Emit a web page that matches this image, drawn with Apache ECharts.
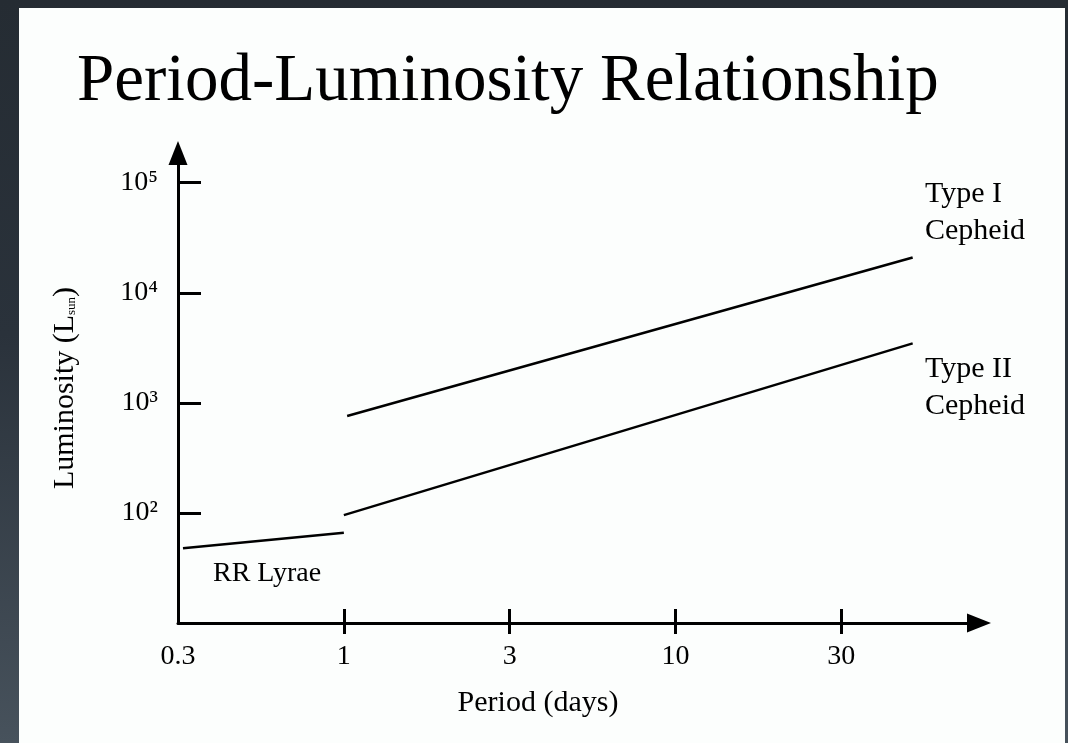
<!DOCTYPE html>
<html>
<head>
<meta charset="utf-8">
<script src="https://cdn.jsdelivr.net/npm/echarts@6/dist/echarts.min.js"></script>
<style>
  html, body {
    margin: 0;
    padding: 0;
    width: 1068px;
    height: 743px;
    overflow: hidden;
    background: linear-gradient(to bottom, #252c33 0%, #2a323b 45%, #47525c 100%);
  }
  .panel {
    position: absolute;
    left: 19px;
    top: 8px;
    width: 1046px;
    height: 735px;
    background: #fcfefd;
  }
  #chart {
    position: absolute;
    left: 0;
    top: 0;
    width: 1068px;
    height: 743px;
  }
</style>
</head>
<body>
<div class="panel"></div>
<div id="chart"></div>
<script>
// x: tick position (0 = 0.3 d, 1 = 1 d, 2 = 3 d, 3 = 10 d, 4 = 30 d)
// y: log10 of luminosity in solar units
const periodLabels = ['0.3', '1', '3', '10', '30']
const periodTicks = [0, 1, 2, 3, 4]
const lumExponents = [2, 3, 4, 5]
const lumLabels = ['10²', '10³', '10⁴', '10⁵']

const rrLyraeX = [0.03, 1.0]
const rrLyraeY = [1.68, 1.82]
const typeTwoX = [1.0, 4.43]
const typeTwoY = [1.98, 3.54]
const typeOneX = [1.02, 4.43]
const typeOneY = [2.88, 4.32]

const font = '"Liberation Serif", "Times New Roman", serif'
const toPoints = (xs, ys) => xs.map((x, i) => [x, ys[i]])

const chart = echarts.init(document.getElementById('chart'))

const lineSeries = (name, xs, ys) => ({
  name: name,
  type: 'line',
  data: toPoints(xs, ys),
  showSymbol: false,
  lineStyle: { color: '#000', width: 2.5 },
  emphasis: { disabled: true },
  silent: true
})

chart.setOption({
  animation: false,
  title: {
    text: 'Period-Luminosity Relationship',
    left: 72,
    top: 44,
    textStyle: { fontFamily: font, fontSize: 67, fontWeight: 'normal', color: '#000' }
  },
  grid: { left: 178, right: 89, top: 153, bottom: 120, containLabel: false, outerBoundsMode: 'none' },
  xAxis: [{
    type: 'value',
    min: 0,
    max: 4.83,
    axisLine: { show: true, symbol: ['none', 'triangle'], symbolSize: [19, 24], lineStyle: { color: '#000', width: 3 } },
    axisTick: { show: true, inside: true, length: 14, customValues: [1, 2, 3, 4], lineStyle: { color: '#000', width: 3 } },
    axisLabel: {
      customValues: periodTicks,
      formatter: v => periodLabels[Math.round(v)],
      margin: 20,
      fontFamily: font,
      fontSize: 28,
      color: '#000'
    },
    splitLine: { show: false }
  }, {
    // second copy only for the tick halves below the axis
    type: 'value',
    position: 'bottom',
    min: 0,
    max: 4.83,
    axisLine: { show: false },
    axisTick: { show: true, inside: false, length: 11, customValues: [1, 2, 3, 4], lineStyle: { color: '#000', width: 3 } },
    axisLabel: { show: false },
    splitLine: { show: false }
  }],
  yAxis: {
    type: 'value',
    min: 1,
    max: 5.27,
    name: 'Luminosity (L{sub|sun})',
    nameLocation: 'middle',
    nameRotate: 90,
    nameGap: 98,
    nameTextStyle: {
      fontFamily: font,
      fontSize: 30,
      color: '#000',
      rich: { sub: { fontFamily: font, fontSize: 13, color: '#000', padding: [14, 0, 0, 0] } }
    },
    axisLine: { show: true, symbol: ['none', 'triangle'], symbolSize: [19, 24], lineStyle: { color: '#000', width: 3 } },
    axisTick: { show: true, inside: true, length: 23, customValues: lumExponents, lineStyle: { color: '#000', width: 3 } },
    axisLabel: {
      customValues: lumExponents,
      formatter: v => lumLabels[lumExponents.indexOf(Math.round(v))],
      margin: 20,
      fontFamily: font,
      fontSize: 28,
      color: '#000'
    },
    splitLine: { show: false }
  },
  graphic: [
    { type: 'text', left: 925, top: 176, style: { text: 'Type I\nCepheid', font: '30px ' + font, fill: '#000', lineHeight: 37 } },
    { type: 'text', left: 925, top: 351, style: { text: 'Type II\nCepheid', font: '30px ' + font, fill: '#000', lineHeight: 37 } },
    { type: 'text', left: 213, top: 560, style: { text: 'RR Lyrae', font: '28px ' + font, fill: '#000' } },
    { type: 'text', x: 538, y: 703, style: { text: 'Period (days)', font: '30px ' + font, fill: '#000', align: 'center', verticalAlign: 'middle' } }
  ],
  series: [
    lineSeries('RR Lyrae', rrLyraeX, rrLyraeY),
    lineSeries('Type II Cepheid', typeTwoX, typeTwoY),
    lineSeries('Type I Cepheid', typeOneX, typeOneY)
  ]
})
</script>
</body>
</html>
